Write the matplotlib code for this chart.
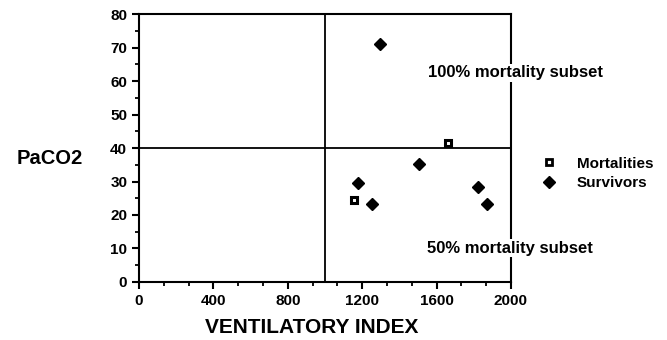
"""Ventilatory index vs PaCO2 scatter with mortality quadrants"""

import matplotlib
matplotlib.use("Agg")
import matplotlib.pyplot as plt
from matplotlib.ticker import MultipleLocator, AutoMinorLocator
from matplotlib.lines import Line2D

plt.rcParams["font.family"] = ["Liberation Sans", "DejaVu Sans"]
plt.rcParams["font.weight"] = "bold"

# data
mort_vi = [1659, 1158]
mort_paco2 = [41.6, 24.4]
surv_vi = [1296, 1505, 1179, 1251, 1824, 1869]
surv_paco2 = [71.0, 35.3, 29.5, 23.4, 28.4, 23.4]
vi_cutoff = 1000
paco2_cutoff = 40
x_ticks = [0, 400, 800, 1200, 1600, 2000]
y_ticks = [0, 10, 20, 30, 40, 50, 60, 70, 80]

fig = plt.figure(figsize=(6.67, 3.4), dpi=100)
ax = fig.add_axes([0.2084, 0.1706, 0.5577, 0.7882])

ax.axvline(vi_cutoff, color="black", lw=1.3, zorder=1)
ax.axhline(paco2_cutoff, color="black", lw=1.3, zorder=1)

ax.plot(surv_vi, surv_paco2, ls="none", marker="D", ms=6.5, color="black", zorder=3)
ax.plot(mort_vi, mort_paco2, ls="none", marker="s", ms=4.2, mfc="white",
        mec="black", mew=2.2, zorder=3)

ax.set_xlim(0, 2000)
ax.set_ylim(0, 80)
ax.set_xticks(x_ticks)
ax.set_yticks(y_ticks)
ax.xaxis.set_minor_locator(AutoMinorLocator(3))
ax.yaxis.set_minor_locator(MultipleLocator(5))
ax.tick_params(which="major", length=5, width=1.5, labelsize=11, direction="out")
ax.tick_params(which="minor", length=3, width=1.3, direction="out")
for lab in ax.get_xticklabels() + ax.get_yticklabels():
    lab.set_fontweight("bold")
for s in ax.spines.values():
    s.set_linewidth(1.5)

ax.set_xlabel("VENTILATORY INDEX", fontsize=15, fontweight="bold")
ax.xaxis.set_label_coords(0.465, -0.135)
ax.set_ylabel("PaCO2", fontsize=14.5, fontweight="bold", rotation=0,
              ha="center", va="center")
ax.yaxis.set_label_coords(-0.24, 0.46)

box = dict(facecolor="white", edgecolor="none", pad=1)
ax.text(1554, 62.4, "100% mortality subset", fontsize=12, fontweight="bold",
        va="center", ha="left", bbox=box, clip_on=False, zorder=4)
ax.text(1548, 10.1, "50% mortality subset", fontsize=12, fontweight="bold",
        va="center", ha="left", bbox=box, clip_on=False, zorder=4)

handles = [
    Line2D([], [], ls="none", marker="s", ms=4, mfc="white", mec="black", mew=2),
    Line2D([], [], ls="none", marker="D", ms=6, color="black"),
]
ax.legend(handles, ["Mortalities", "Survivors"], loc="center left",
          bbox_to_anchor=(1.034, 0.405), frameon=False, handletextpad=1.1,
          handlelength=1.5, prop={"size": 11, "weight": "bold"}, labelspacing=0.35)

plt.savefig("out.png", dpi=100)
